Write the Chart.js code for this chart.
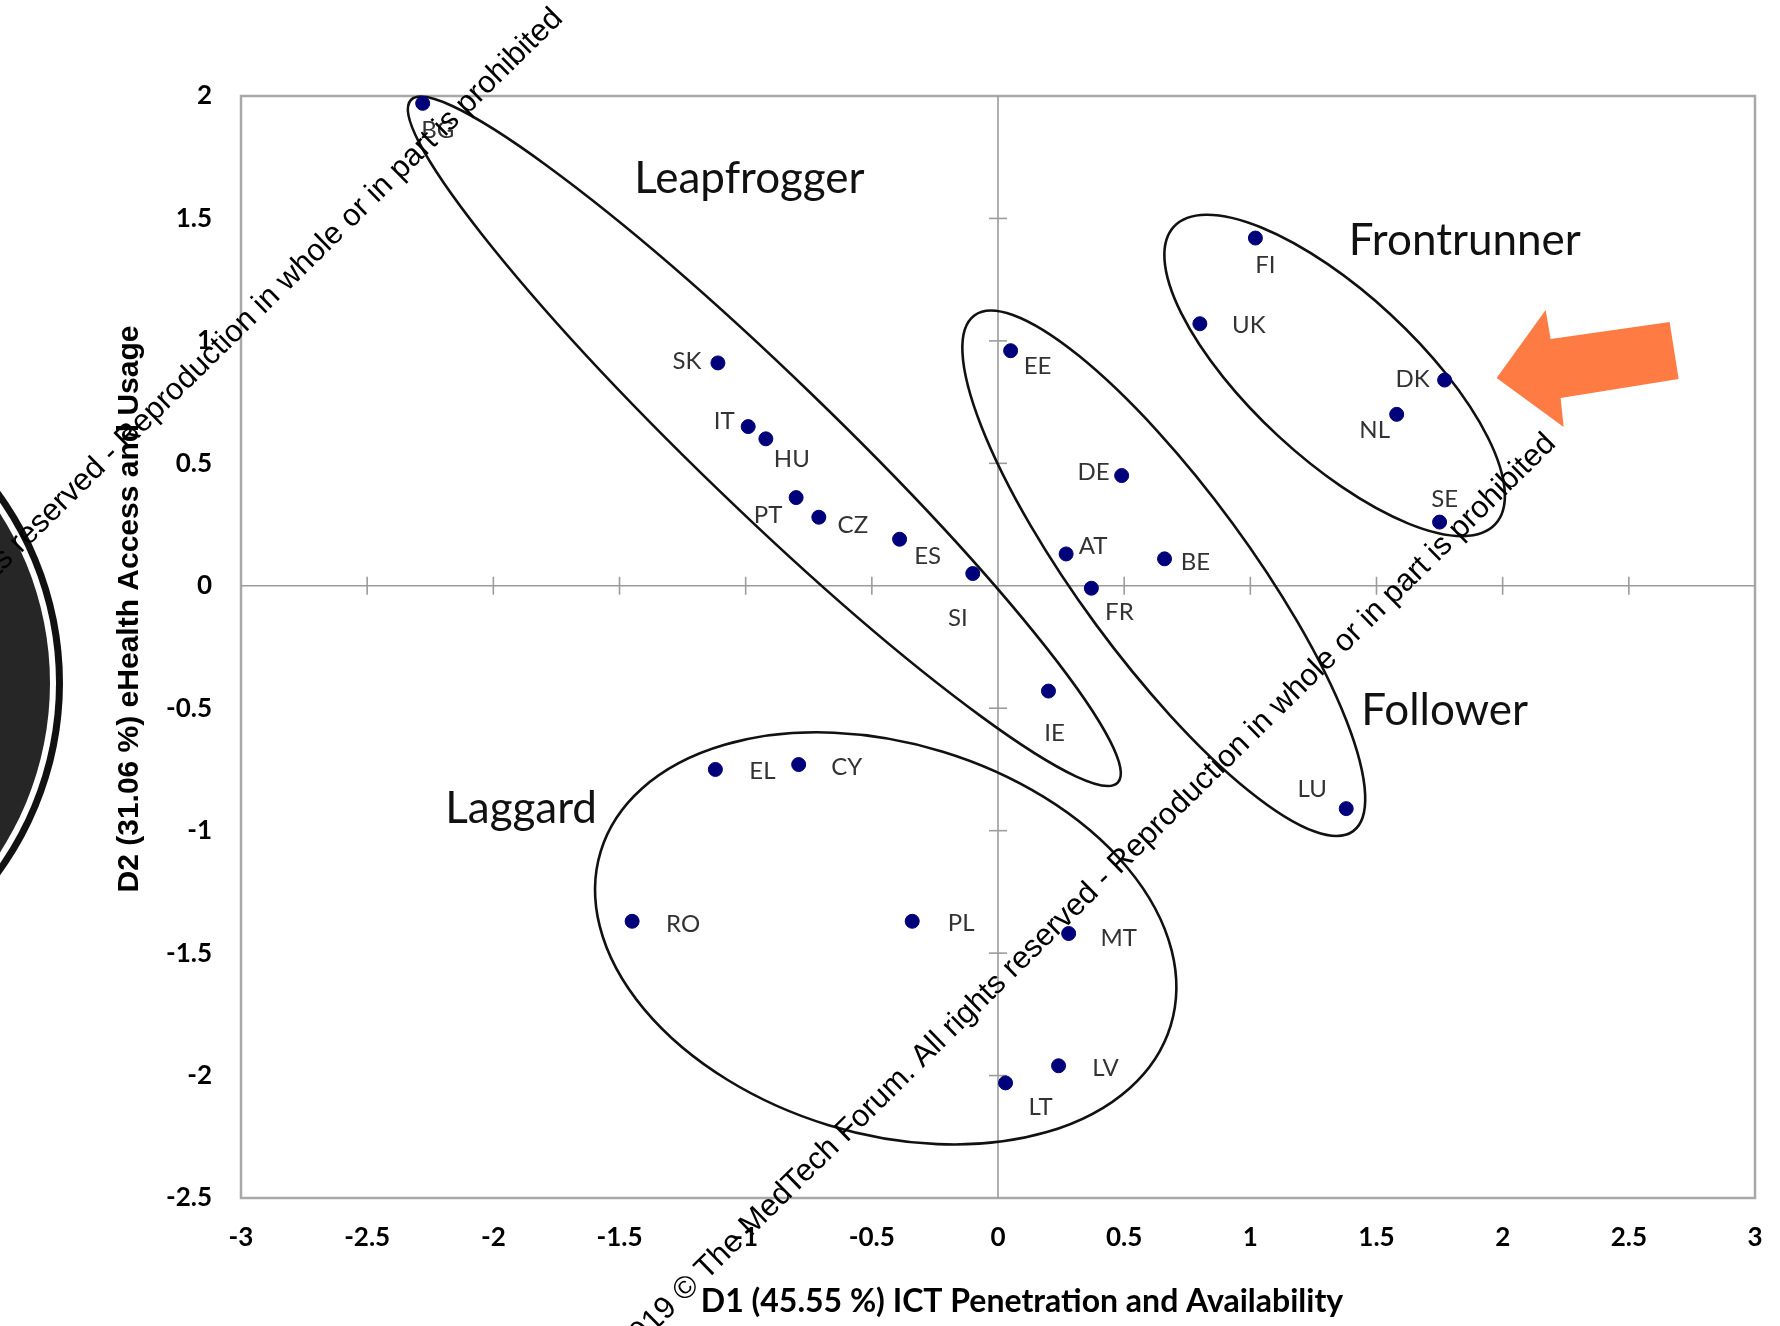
<!DOCTYPE html>
<html>
<head>
<meta charset="utf-8">
<script src="https://cdn.jsdelivr.net/npm/chart.js@4.4.1/dist/chart.umd.min.js"></script>
<style>
  html, body { margin: 0; padding: 0; background: #fff; }
  #wrap { width: 1780px; height: 1326px; position: relative; }
</style>
</head>
<body>
<div id="wrap"><canvas id="chart"></canvas></div>
<script>
// Country scores on the two dimensions
const countries = ["BG", "SK", "IT", "HU", "PT", "CZ", "ES", "SI", "EE", "DE", "AT", "BE", "FR", "IE", "LU",
  "FI", "UK", "DK", "NL", "SE", "EL", "CY", "RO", "PL", "MT", "LV", "LT"];
const d1 = [-2.28, -1.11, -0.99, -0.92, -0.80, -0.71, -0.39, -0.10, 0.05, 0.49, 0.27, 0.66, 0.37, 0.20, 1.38,
  1.02, 0.80, 1.77, 1.58, 1.75, -1.12, -0.79, -1.45, -0.34, 0.28, 0.24, 0.03];
const d2 = [1.97, 0.91, 0.65, 0.60, 0.36, 0.28, 0.19, 0.05, 0.96, 0.45, 0.13, 0.11, -0.01, -0.43, -0.91,
  1.42, 1.07, 0.84, 0.70, 0.26, -0.75, -0.73, -1.37, -1.37, -1.42, -1.96, -2.03];

const xTicks = [-3, -2.5, -2, -1.5, -1, -0.5, 0, 0.5, 1, 1.5, 2, 2.5, 3];
const yTicks = [-2.5, -2, -1.5, -1, -0.5, 0, 0.5, 1, 1.5, 2];

const xTitle = "D1 (45.55 %) ICT Penetration and Availability";
const yTitle = "D2 (31.06 %) eHealth Access and Usage";

// Cluster groups: label anchor and enclosing ellipse (centre, semi-axes in x units, tilt in degrees)
const groupNames = ["Leapfrogger", "Frontrunner", "Follower", "Laggard"];
const groupLabelX = [-0.985, 1.85, 1.77, -1.89];
const groupLabelY = [1.66, 1.41, -0.51, -0.91];
const ellipseCx = [-0.926, 1.334, 0.657, -0.445];
const ellipseCy = [0.590, 0.859, 0.051, -1.44];
const ellipseA = [1.947, 0.868, 1.268, 1.181];
const ellipseB = [0.265, 0.328, 0.337, 0.774];
const ellipseTilt = [44, 42.8, 53.7, 17];

const watermark = "2019 \u00a9 The MedTech Forum. All rights reserved - Reproduction in whole or in part is prohibited";

// label offsets in px from each point
const labelOffset = {
  BG: [15, 27], SK: [-31, -2], IT: [-24, -5], HU: [26, 20], PT: [-28, 18], CZ: [34, 8], ES: [28, 17],
  SI: [-15, 45], EE: [27, 16], DE: [-28, -3], AT: [27, -8], BE: [31, 3], FR: [28, 24], IE: [6, 42],
  LU: [-34, -19], FI: [10, 27], UK: [49, 2], DK: [-32, -1], NL: [-22, 16], SE: [5, -23],
  EL: [47, 2], CY: [48, 3], RO: [51, 3], PL: [49, 2], MT: [50, 5], LV: [47, 3], LT: [35, 24]
};

function fmt(v) {
  return String(Math.round(v * 10) / 10);
}

function line(ctx, x1, y1, x2, y2) {
  ctx.beginPath();
  ctx.moveTo(x1, y1);
  ctx.lineTo(x2, y2);
  ctx.stroke();
}

const decor = {
  id: "decor",
  beforeDatasetsDraw(chart) {
    const { ctx, chartArea: a, scales: { x, y } } = chart;
    ctx.save();

    // frame
    ctx.strokeStyle = "#a8a8a8";
    ctx.lineWidth = 2.5;
    ctx.strokeRect(a.left, a.top, a.right - a.left, a.bottom - a.top);

    // axes through origin with cross ticks
    const x0 = x.getPixelForValue(0);
    const y0 = y.getPixelForValue(0);
    ctx.strokeStyle = "#9c9c9c";
    ctx.lineWidth = 1.6;
    line(ctx, a.left, y0, a.right, y0);
    line(ctx, x0, a.top, x0, a.bottom);
    xTicks.forEach(v => {
      if (v === 0 || v === xTicks[0] || v === xTicks[xTicks.length - 1]) return;
      const px = x.getPixelForValue(v);
      line(ctx, px, y0 - 9, px, y0 + 9);
    });
    yTicks.forEach(v => {
      if (v === 0 || v === yTicks[0] || v === yTicks[yTicks.length - 1]) return;
      const py = y.getPixelForValue(v);
      line(ctx, x0 - 9, py, x0 + 9, py);
    });

    // group ellipses
    const unit = x.getPixelForValue(1) - x.getPixelForValue(0);
    ctx.strokeStyle = "#111";
    ctx.lineWidth = 2.6;
    groupNames.forEach((g, i) => {
      ctx.beginPath();
      ctx.ellipse(x.getPixelForValue(ellipseCx[i]), y.getPixelForValue(ellipseCy[i]),
        ellipseA[i] * unit, ellipseB[i] * unit, ellipseTilt[i] * Math.PI / 180, 0, Math.PI * 2);
      ctx.stroke();
    });
    ctx.restore();
  },
  afterDatasetsDraw(chart) {
    const { ctx, scales: { x, y } } = chart;
    ctx.save();

    // point labels
    ctx.fillStyle = "#333";
    ctx.font = "24px Lato";
    ctx.textAlign = "center";
    ctx.textBaseline = "middle";
    countries.forEach((c, i) => {
      const off = labelOffset[c] || [20, 0];
      ctx.fillText(c, x.getPixelForValue(d1[i]) + off[0], y.getPixelForValue(d2[i]) + off[1]);
    });

    // group names
    ctx.fillStyle = "#111";
    ctx.font = "44px Lato";
    groupNames.forEach((g, i) => {
      ctx.fillText(g, x.getPixelForValue(groupLabelX[i]), y.getPixelForValue(groupLabelY[i]));
    });

    // axis titles
    ctx.font = "bold 32px Lato";
    ctx.fillStyle = "#000";
    ctx.fillText(xTitle, 1022, 1302);
    ctx.save();
    ctx.translate(130, 609);
    ctx.rotate(-Math.PI / 2);
    ctx.font = "bold 30px 'Liberation Sans'";
    ctx.fillText(yTitle, 0, 0);
    ctx.restore();

    // orange arrow pointing at DK
    const dk = countries.indexOf("DK");
    const tx = x.getPixelForValue(d1[dk]) + 52;
    const ty = y.getPixelForValue(d2[dk]) - 2;
    const arrow = [[0, 0], [49, -68], [54, -39], [173, -56], [182, 1], [64, 20], [67, 49]];
    ctx.fillStyle = "#fe7c44";
    ctx.beginPath();
    arrow.forEach((p, k) => k ? ctx.lineTo(tx + p[0], ty + p[1]) : ctx.moveTo(tx + p[0], ty + p[1]));
    ctx.closePath();
    ctx.fill();

    // black disc at the left edge
    ctx.fillStyle = "#111";
    ctx.beginPath(); ctx.arc(-262, 683, 325, 0, Math.PI * 2); ctx.fill();
    ctx.fillStyle = "#fff";
    ctx.beginPath(); ctx.arc(-262, 683, 318, 0, Math.PI * 2); ctx.fill();
    ctx.fillStyle = "#262626";
    ctx.beginPath(); ctx.arc(-262, 683, 312, 0, Math.PI * 2); ctx.fill();

    // diagonal watermark lines
    ctx.fillStyle = "#000";
    ctx.font = "31px 'Liberation Sans'";
    ctx.textAlign = "right";
    ctx.textBaseline = "alphabetic";
    [[1557, 445], [564, 20]].forEach(p => {
      ctx.save();
      ctx.translate(p[0], p[1]);
      ctx.rotate(-44.5 * Math.PI / 180);
      ctx.fillText(watermark, 0, 0);
      ctx.restore();
    });
    ctx.restore();
  }
};

const tickFont = { family: "Lato", size: 26, weight: "bold" };

new Chart(document.getElementById("chart"), {
  type: "scatter",
  data: {
    datasets: [{
      data: countries.map((c, i) => ({ x: d1[i], y: d2[i] })),
      backgroundColor: "#00007a",
      borderColor: "#00007a",
      pointRadius: 7,
      pointHoverRadius: 7
    }]
  },
  options: {
    responsive: true,
    maintainAspectRatio: false,
    animation: false,
    layout: { padding: { top: 96, right: 25, left: 0, bottom: 0 } },
    plugins: { legend: { display: false }, tooltip: { enabled: false } },
    scales: {
      x: {
        type: "linear",
        min: xTicks[0],
        max: xTicks[xTicks.length - 1],
        grid: { display: false, drawTicks: false },
        border: { display: false },
        afterBuildTicks: s => { s.ticks = xTicks.map(v => ({ value: v })); },
        afterFit: s => { s.height = 128; s.paddingLeft = 0; s.paddingRight = 0; },
        ticks: { padding: 24, color: "#000", font: tickFont, autoSkip: false, maxRotation: 0, callback: v => fmt(v) }
      },
      y: {
        type: "linear",
        min: yTicks[0],
        max: yTicks[yTicks.length - 1],
        grid: { display: false, drawTicks: false },
        border: { display: false },
        afterBuildTicks: s => { s.ticks = yTicks.map(v => ({ value: v })); },
        afterFit: s => { s.width = 241; s.paddingTop = 0; s.paddingBottom = 0; },
        ticks: { padding: 29, color: "#000", font: tickFont, autoSkip: false, callback: v => fmt(v) }
      }
    }
  },
  plugins: [decor]
});
</script>
</body>
</html>
